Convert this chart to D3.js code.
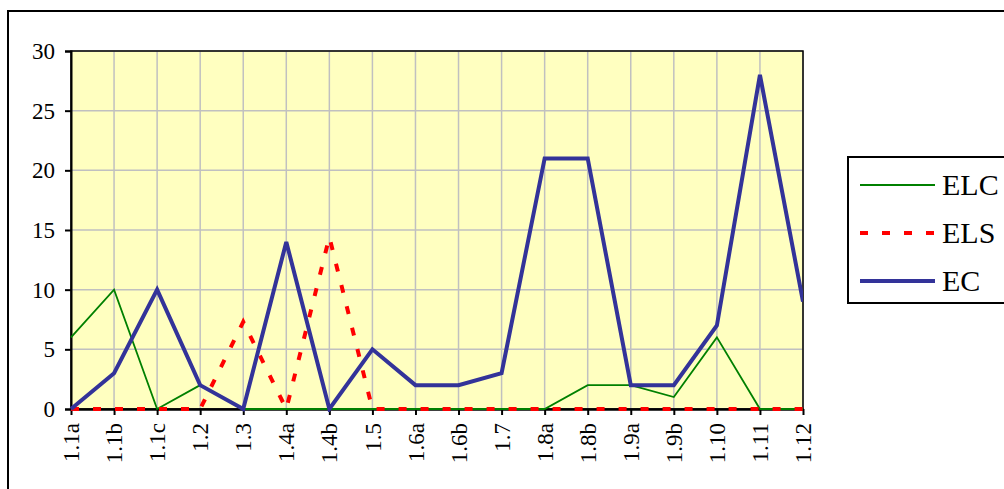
<!DOCTYPE html>
<html><head><meta charset="utf-8">
<script src="https://cdn.jsdelivr.net/npm/d3@7"></script>
<style>body{margin:0;background:#fff;}svg{display:block;}</style>
</head><body>
<svg id="c" width="1004" height="489"></svg>
<script>
const categories = ["1.1a","1.1b","1.1c","1.2","1.3","1.4a","1.4b","1.5","1.6a","1.6b","1.7","1.8a","1.8b","1.9a","1.9b","1.10","1.11","1.12"];
const ELC = [6,10,0,2,0,0,0,0,0,0,0,0,2,2,1,6,0,0];
const ELS = [0,0,0,0,7.3,0,14.4,0,0,0,0,0,0,0,0,0,0,0];
const EC  = [0,3,10,2,0,14,0,5,2,2,3,21,21,2,2,7,28,9];
const yTicks = [0,5,10,15,20,25,30];
const seriesNames = ["ELC","ELS","EC"];

const svg = d3.select("#c");
const font = "'Liberation Serif','Times New Roman',serif";
const L = 71, R = 803, T = 51, B = 409;

// outer frame
svg.append("rect").attr("x",8).attr("y",11).attr("width",1100).attr("height",600)
  .attr("fill","#fff").attr("stroke","#000").attr("stroke-width",2);

const x = d3.scalePoint().domain(categories).range([L,R]);
const y = d3.scaleLinear().domain([0,30]).range([B,T]);

svg.append("rect").attr("x",L).attr("y",T).attr("width",R-L).attr("height",B-T).attr("fill","#ffffc0");

// gridlines
svg.append("g").selectAll("line").data(categories).join("line")
  .attr("x1",d=>x(d)).attr("x2",d=>x(d)).attr("y1",T).attr("y2",B)
  .attr("stroke","#c0c0c0").attr("stroke-width",1.5);
svg.append("g").selectAll("line").data(yTicks).join("line")
  .attr("x1",L).attr("x2",R).attr("y1",d=>y(d)).attr("y2",d=>y(d))
  .attr("stroke","#c0c0c0").attr("stroke-width",1.5);

// plot border
svg.append("rect").attr("x",L).attr("y",T).attr("width",R-L).attr("height",B-T)
  .attr("fill","none").attr("stroke","#000").attr("stroke-width",1.5);

// axes
const yAxis = svg.append("g").attr("transform",`translate(${L},0)`)
  .call(d3.axisLeft(y).tickValues(yTicks).tickSize(6).tickPadding(10).tickFormat(d3.format("d")));
yAxis.select(".domain").attr("stroke-width",2);
yAxis.selectAll("line").attr("stroke-width",2);
yAxis.selectAll("text").attr("font-family",font).attr("font-size",23).attr("fill","#000");

const xAxis = svg.append("g").attr("transform",`translate(0,${B})`)
  .call(d3.axisBottom(x).tickSize(6).tickPadding(0).tickSizeOuter(0));
xAxis.select(".domain").attr("stroke-width",2.5);
xAxis.selectAll("line").attr("stroke-width",2);
xAxis.selectAll("text").attr("font-family",font).attr("font-size",23).attr("fill","#000")
  .attr("transform","rotate(-90)").attr("text-anchor","end").attr("dy","0.33em").attr("x",-14).attr("y",0);

const line = d3.line().x((d,i)=>x(categories[i])).y(d=>y(d));
const styles = {
  ELC:{color:"#008000",w:1.8,dash:null},
  ELS:{color:"#ff0000",w:4,dash:"8,14"},
  EC:{color:"#333399",w:4,dash:null}
};
const data = {ELC, ELS, EC};
svg.append("clipPath").attr("id","pc").append("rect").attr("x",L-3).attr("y",T-3).attr("width",R-L+3).attr("height",B-T+6);
seriesNames.forEach(n=>{
  svg.append("path").datum(data[n]).attr("d",line).attr("fill","none")
    .attr("stroke",styles[n].color).attr("stroke-width",styles[n].w)
    .attr("stroke-dasharray",styles[n].dash).attr("stroke-linejoin","miter")
    .attr("clip-path","url(#pc)");
});

// legend
const lg = svg.append("g");
lg.append("rect").attr("x",848).attr("y",157).attr("width",200).attr("height",146)
  .attr("fill","#fff").attr("stroke","#000").attr("stroke-width",2);
const ly = [185,233,281];
seriesNames.forEach((n,i)=>{
  lg.append("line").attr("x1",860).attr("x2",935).attr("y1",ly[i]).attr("y2",ly[i])
    .attr("stroke",styles[n].color).attr("stroke-width",styles[n].w).attr("stroke-dasharray",styles[n].dash);
  lg.append("text").attr("x",942).attr("y",ly[i]+10).attr("font-family",font).attr("font-size",30)
    .attr("fill","#000").text(n);
});
</script>
</body></html>
